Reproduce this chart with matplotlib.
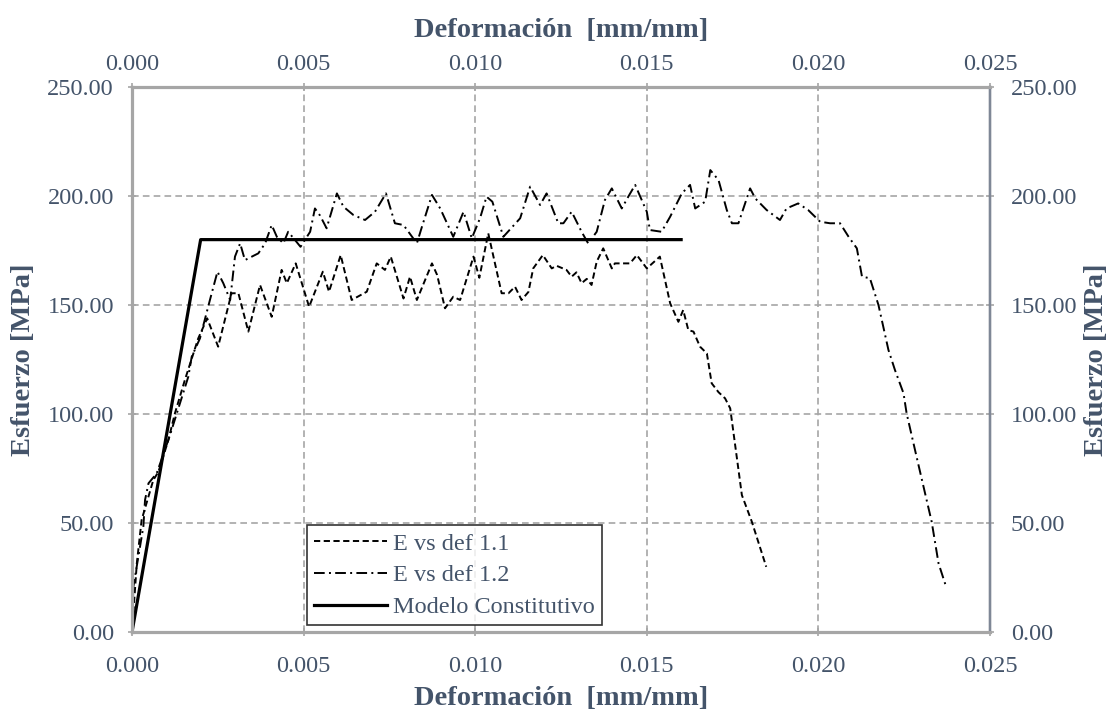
import matplotlib
matplotlib.use('Agg')
import matplotlib.pyplot as plt

plt.rcParams['font.family'] = ['Liberation Serif', 'DejaVu Serif']

txt_col = '#44546A'
grid_col = '#A6A6A6'

# E vs def 1.1 (dashed)
def_11 = [0.0, 0.00014, 0.00028, 0.00062, 0.00077, 0.00106, 0.00125, 0.00154, 0.00193,
          0.00219, 0.00251, 0.00290, 0.00310, 0.00339, 0.00373, 0.00407, 0.00436,
          0.00451, 0.00477, 0.00516, 0.00556, 0.00574, 0.00608, 0.00640, 0.00684,
          0.00713, 0.00737, 0.00754, 0.00791, 0.00810, 0.00830, 0.00874, 0.00889,
          0.00912, 0.00936, 0.00956, 0.00995, 0.01012, 0.01038, 0.01077, 0.01097,
          0.01116, 0.01135, 0.01155, 0.01169, 0.01197, 0.01223, 0.01237, 0.01266,
          0.01281, 0.01295, 0.01310, 0.01325, 0.01339, 0.01354, 0.01373, 0.01398,
          0.01407, 0.01451, 0.01471, 0.01500, 0.01538, 0.01568, 0.01592, 0.01606,
          0.01621, 0.01636, 0.01655, 0.01675, 0.01689, 0.01709, 0.01728, 0.01743,
          0.01777, 0.01806, 0.01848]
esf_11 = [0.0, 31.5, 51.4, 69.7, 73.5, 88.1, 100.3, 115.6, 134.7,
          143.9, 130.9, 155.4, 155.4, 137.8, 159.2, 144.6, 166.1,
          160.0, 169.1, 149.2, 165.3, 156.1, 172.9, 152.3, 156.1,
          169.1, 166.1, 172.2, 153.0, 163.0, 152.3, 169.1, 163.8,
          148.5, 153.8, 152.3, 172.2, 162.5, 182.9, 155.4, 155.4,
          158.4, 152.3, 156.0, 166.8, 172.9, 166.8, 168.0, 166.1,
          163.0, 165.0, 160.0, 162.0, 159.2, 169.9, 176.0, 166.8,
          169.1, 169.1, 172.9, 166.8, 172.2, 150.8, 142.3, 147.7,
          138.5, 137.8, 130.9, 127.8, 114.1, 110.0, 107.2, 102.6,
          62.8, 50.6, 29.9]

# E vs def 1.2 (dash-dot)
def_12 = [0.0, 0.00004, 0.00033, 0.00038, 0.00048, 0.00072, 0.00110, 0.00164, 0.00174,
          0.00198, 0.00227, 0.00249, 0.00266, 0.00286, 0.00300, 0.00315, 0.00329,
          0.00368, 0.00388, 0.00407, 0.00422, 0.00441, 0.00455, 0.00474, 0.00491,
          0.00519, 0.00533, 0.00548, 0.00567, 0.00597, 0.00616, 0.00645, 0.00679,
          0.00708, 0.00740, 0.00766, 0.00791, 0.00830, 0.00845, 0.00874, 0.00898,
          0.00936, 0.00966, 0.00990, 0.01014, 0.01033, 0.01050, 0.01082, 0.01131,
          0.01160, 0.01189, 0.01208, 0.01242, 0.01257, 0.01281, 0.01310, 0.01329,
          0.01354, 0.01378, 0.01398, 0.01427, 0.01446, 0.01466, 0.01500, 0.01509,
          0.01543, 0.01568, 0.01602, 0.01626, 0.01641, 0.01670, 0.01685, 0.01709,
          0.01733, 0.01748, 0.01767, 0.01801, 0.01816, 0.01849, 0.01888, 0.01907,
          0.01941, 0.01970, 0.02005, 0.02034, 0.02063, 0.02088, 0.02112, 0.02127,
          0.02150, 0.02175, 0.02204, 0.02223, 0.02248, 0.02257, 0.02286, 0.02330,
          0.02350, 0.02372]
esf_12 = [0.0, 20.8, 48.3, 60.6, 68.2, 72.8, 90.0, 117.1, 126.3,
          134.7, 152.3, 165.3, 160.0, 152.3, 172.2, 178.3, 170.6,
          173.7, 178.3, 186.7, 181.3, 178.3, 183.6, 180.0, 176.7,
          183.6, 194.3, 191.0, 185.2, 201.2, 195.1, 191.3, 189.0,
          192.8, 201.2, 187.5, 186.7, 178.3, 186.0, 200.5, 194.3,
          181.3, 192.8, 180.6, 189.8, 199.7, 197.4, 181.3, 189.8,
          204.3, 195.9, 201.2, 187.5, 187.5, 192.8, 183.6, 178.3,
          183.6, 198.2, 203.5, 194.3, 199.7, 205.1, 192.8, 184.4,
          183.6, 190.5, 201.2, 205.1, 194.3, 197.4, 211.9, 207.3,
          193.6, 187.5, 187.5, 203.5, 198.9, 193.6, 189.0, 194.3,
          196.6, 193.6, 188.2, 187.5, 187.5, 181.3, 176.0, 163.0,
          162.3, 150.0, 129.4, 120.2, 109.5, 100.3, 80.4, 50.6,
          31.5, 20.8]

# Modelo Constitutivo
def_mod = [0.0, 0.002, 0.016]
esf_mod = [0.0, 180.0, 180.0]

x_ticks = [0.000, 0.005, 0.010, 0.015, 0.020, 0.025]
y_ticks = [0, 50, 100, 150, 200, 250]

fig = plt.figure(figsize=(11.14, 7.11), dpi=100)
ax = fig.add_axes([0.1185, 0.1111, 0.7702, 0.7665])

ax.plot(def_11, esf_11, color='black', lw=1.4, dashes=(3.2, 1.8), label='E vs def 1.1')
ax.plot(def_12, esf_12, color='black', lw=1.4, dashes=(5.5, 2.2, 1.0, 2.2), label='E vs def 1.2')
ax.plot(def_mod, esf_mod, color='black', lw=2.3, label='Modelo Constitutivo')

ax.set_xlim(0, 0.025)
ax.set_ylim(0, 250)
ax.set_xticks(x_ticks)
ax.set_yticks(y_ticks)
ax.set_xticklabels(['%.3f' % v for v in x_ticks])
ax.set_yticklabels(['%.2f' % v for v in y_ticks])
ax.grid(True, color=grid_col, ls=(0, (4, 2.5)), lw=1.2)

fs = 17.5
lab_font = dict(fontsize=20.5, fontweight='bold', color=txt_col)
tick_kw = dict(labelsize=fs, labelcolor=txt_col, color=grid_col,
               direction='inout', length=6, width=1.2)
ax.set_xlabel('Deformación  [mm/mm]', labelpad=7, **lab_font)
ax.set_ylabel('Esfuerzo [MPa]', labelpad=8, **lab_font)
ax.tick_params(axis='x', pad=14, **tick_kw)
ax.tick_params(axis='y', pad=10, **tick_kw)

axt = ax.twiny()
axt.set_xlim(ax.get_xlim())
axt.set_xticks(x_ticks)
axt.set_xticklabels(['%.3f' % v for v in x_ticks])
axt.set_xlabel('Deformación  [mm/mm]', labelpad=12, **lab_font)
axt.tick_params(axis='x', pad=6, **tick_kw)

axr = ax.twinx()
axr.set_ylim(ax.get_ylim())
axr.set_yticks(y_ticks)
axr.set_yticklabels(['%.2f' % v for v in y_ticks])
axr.set_ylabel('Esfuerzo [MPa]', labelpad=5, **lab_font)
axr.tick_params(axis='y', pad=12, **tick_kw)

for a in (ax, axt, axr):
    for s in ('left', 'bottom', 'top'):
        a.spines[s].set_color('#A6A6A6')
        a.spines[s].set_linewidth(2.2)
    a.spines['right'].set_color('#7F8796')
    a.spines['right'].set_linewidth(1.6)

leg = ax.legend(loc='lower left', bbox_to_anchor=(0.204, 0.012), fontsize=fs,
                frameon=True, fancybox=False, edgecolor='black', handlelength=3.0,
                borderpad=0.3, labelspacing=0.4, handletextpad=0.25, borderaxespad=0)
leg.get_frame().set_linewidth(1.2)
for t in leg.get_texts():
    t.set_color(txt_col)

fig.savefig('out.png', dpi=100)
